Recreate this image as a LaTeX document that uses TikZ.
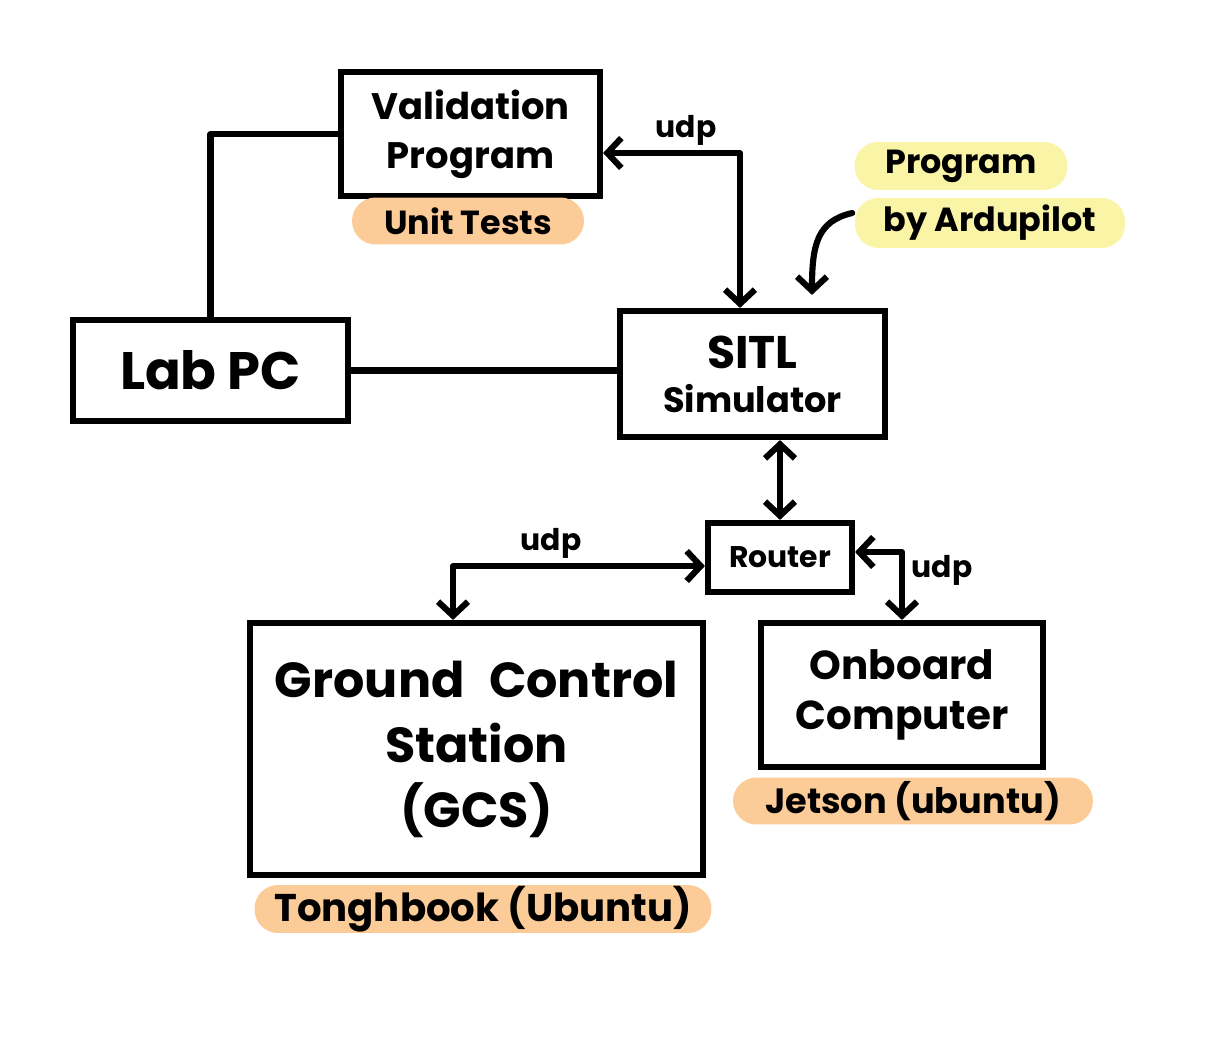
\documentclass[tikz,border=0pt]{standalone}
\usepackage{fontspec}
\setmainfont{Poppins}
\usetikzlibrary{arrows.meta}

\definecolor{tagorange}{HTML}{FBCB98}
\definecolor{tagyellow}{HTML}{FAF5A6}

\tikzset{
  box/.style={draw, line width=3.5pt, inner sep=0pt, align=center},
  tag/.style={rounded corners=0.47cm, inner sep=0pt},
  wire/.style={line width=3.5pt, line cap=round, line join=round},
  tip/.style={arrows={-Straight Barb[length=8pt,width=17pt]}},
  both/.style={arrows={Straight Barb[length=8pt,width=17pt]-Straight Barb[length=8pt,width=17pt]}},
  fs/.style 2 args={font=\bfseries\fontsize{#1}{#2}\selectfont}
}

\begin{document}
\begin{tikzpicture}[x=0.02cm, y=-0.02cm]
  \useasboundingbox (0,0) rectangle (1208,1037);

  % Boxes
  \node[box, minimum width=5.18cm, minimum height=2.48cm, fs={21}{28}] (valid) at (470.5,134)
    {Validation\\Program};
  \node[box, minimum width=5.5cm, minimum height=2.02cm, fs={30}{30}] (labpc) at (210.5,370.5) {Lab PC};
  \node[box, minimum width=5.3cm, minimum height=2.52cm, fs={26}{25}] (sitl) at (752.5,374)
    {SITL\\{\fontsize{20}{25}\selectfont Simulator}};
  \node[box, minimum width=2.88cm, minimum height=1.38cm, fs={17}{17}] (router) at (780,557.5) {Router};
  \node[box, minimum width=9.06cm, minimum height=5.04cm, fs={28}{37}] (gcs) at (476.5,749)
    {Ground\enspace Control\\Station\\(GCS)};
  \node[box, minimum width=5.64cm, minimum height=2.88cm, fs={23}{28}] (onboard) at (902,695)
    {Onboard\\Computer};

  % Highlighted notes
  \node[tag, fill=tagorange, minimum width=4.64cm, minimum height=0.94cm, fs={19}{19}] (unit) at (468,221) {Unit Tests};
  \node[tag, fill=tagyellow, minimum width=4.26cm, minimum height=0.96cm, fs={19}{19}] (prog1) at (961,166) {Program};
  \node[tag, fill=tagyellow, minimum width=5.4cm, minimum height=1cm, fs={19}{19}] (prog2) at (990,223) {by Ardupilot};
  \node[tag, fill=tagorange, minimum width=9.14cm, minimum height=0.96cm, fs={22}{22}] (tough) at (483,909) {Tonghbook (Ubuntu)};
  \node[tag, fill=tagorange, minimum width=7.2cm, minimum height=0.94cm, fs={20}{20}] (jetson) at (913,801) {Jetson (ubuntu)};

  % udp labels
  \node[fs={17}{17}] (udpa) at (686,130) {udp};
  \node[fs={17}{17}] (udpb) at (551,543) {udp};
  \node[fs={17}{17}] (udpc) at (942,570) {udp};

  % Connectors
  \draw[wire] (labpc.north) |- (valid.west);
  \draw[wire] (labpc.east) -- (labpc.east -| sitl.west);
  \draw[wire, both] ([yshift=-0.38cm]valid.east) -| ([xshift=-0.25cm]sitl.north);
  \draw[wire, both] (router.north |- sitl.south) -- (router.north);
  \draw[wire, both] ([yshift=-0.17cm]router.west) -| ([xshift=-0.47cm]gcs.north);
  \draw[wire, both] ([yshift=0.11cm]router.east) -| (onboard.north);
  \coordinate (note) at ([xshift=-0.05cm,yshift=0.2cm]prog2.west);
  \coordinate (pin) at ([xshift=1.19cm,yshift=0.26cm]sitl.north);
  \draw[wire, tip] (note) .. controls +(-35,8) and +(0,-50) .. (pin);
\end{tikzpicture}
\end{document}
